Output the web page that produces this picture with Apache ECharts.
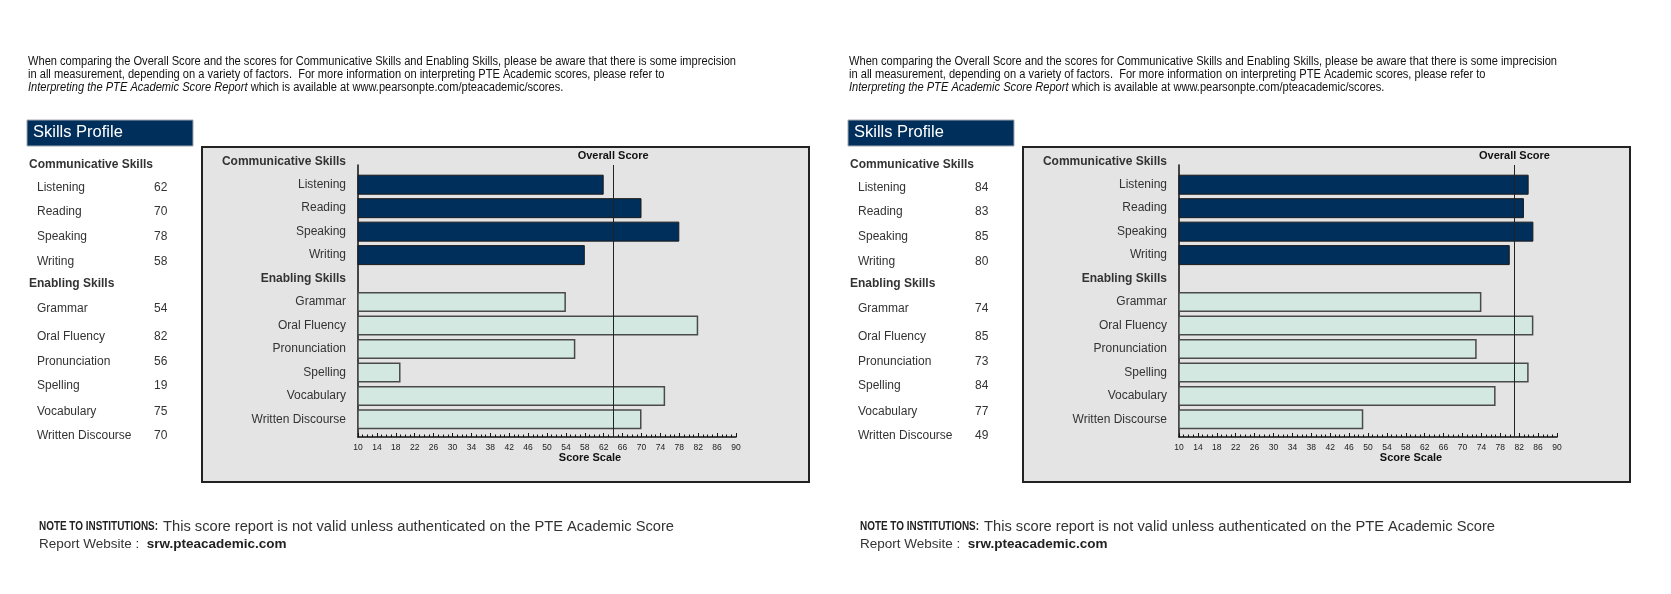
<!DOCTYPE html>
<html>
<head>
<meta charset="utf-8">
<script src="https://cdn.jsdelivr.net/npm/echarts@6/dist/echarts.min.js"></script>
<style>
html,body{margin:0;padding:0;background:#ffffff;}
#chart{width:1671px;height:594px;}
</style>
</head>
<body>
<div id="chart"></div>
<script>
// ---------------- DATA ----------------
const headerRows = ['Communicative Skills', 'Enabling Skills'];
const communicativeSkills = ['Listening', 'Reading', 'Speaking', 'Writing'];
const enablingSkills = ['Grammar', 'Oral Fluency', 'Pronunciation', 'Spelling', 'Vocabulary', 'Written Discourse'];

const report1Communicative = [62, 70, 78, 58];
const report1Enabling = [54, 82, 56, 19, 75, 70];
const report1Overall = 64;

const report2Communicative = [84, 83, 85, 80];
const report2Enabling = [74, 85, 73, 84, 77, 49];
const report2Overall = 81;

const scaleMin = 10;
const scaleMax = 90;
const scaleStep = 4;

const introLines = [
  'When comparing the Overall Score and the scores for Communicative Skills and Enabling Skills, please be aware that there is some imprecision',
  'in all measurement, depending on a variety of factors.  For more information on interpreting PTE Academic scores, please refer to'
];
const introItalic = 'Interpreting the PTE Academic Score Report';
const introTail = ' which is available at www.pearsonpte.com/pteacademic/scores.';
const noteLabel = 'NOTE TO INSTITUTIONS:';
const noteText = 'This score report is not valid unless authenticated on the PTE Academic Score';
const noteLine2 = 'Report Website :  ';
const noteSite = 'srw.pteacademic.com';

// ---------------- FONTS ----------------
const ARIAL = '"Liberation Sans", Arial, sans-serif';
function textWidth(text, font) {
  const ctx = document.createElement('canvas').getContext('2d');
  ctx.font = font;
  return ctx.measureText(text).width;
}
const introFont = '12.5px ' + ARIAL;
const introScale = 708 / textWidth(introLines[0], introFont);
const noteBoldFont = 'bold 12.5px ' + ARIAL;
const noteBoldScale = 119 / textWidth(noteLabel, noteBoldFont);
const noteFont = '14px ' + ARIAL;
const noteScale = 511 / textWidth(noteText, noteFont);

// ---------------- BUILD ----------------
const categories = [headerRows[0], ...communicativeSkills, headerRows[1], ...enablingSkills];
const NAVY = '#002f5c';
const LIGHT = '#d4e8e2';

const option = {
  animation: false,
  textStyle: { fontFamily: ARIAL },
  grid: [], xAxis: [], yAxis: [], series: [], graphic: []
};

function addPanel(p, dx, comm, enab, overall) {
  const gMain = 2 * p, gOver = 2 * p + 1;
  option.grid.push({ left: 358 + dx, width: 378, top: 149.5, height: 281.6 });
  option.grid.push({ left: 358 + dx, width: 378, top: 165, height: 272 });

  option.xAxis.push({ gridIndex: gMain, type: 'value', min: scaleMin, max: scaleMax, show: false });
  option.yAxis.push({
    gridIndex: gMain, type: 'category', inverse: true, data: categories,
    axisLine: { show: false }, axisTick: { show: false }, splitLine: { show: false },
    axisLabel: {
      margin: 12, fontSize: 12, color: '#333',
      formatter: v => headerRows.includes(v) ? '{h|' + v + '}' : v,
      rich: { h: { fontWeight: 'bold', fontSize: 12, color: '#333' } }
    }
  });

  option.xAxis.push({
    gridIndex: gOver, type: 'value', min: scaleMin, max: scaleMax, interval: scaleStep,
    axisLine: { show: true, lineStyle: { color: '#111', width: 1.5 } },
    axisTick: { show: true, inside: true, length: 4, lineStyle: { color: '#111', width: 1 } },
    minorTick: { show: true, splitNumber: 4, length: 2.5, lineStyle: { color: '#111', width: 1 } },
    splitLine: { show: false }, minorSplitLine: { show: false },
    axisLabel: { fontSize: 8.5, margin: 6, color: '#222' },
    name: 'Score Scale', nameLocation: 'middle', nameGap: 13,
    nameTextStyle: { fontWeight: 'bold', fontSize: 11, color: '#111', padding: [0, 0, 0, 86] }
  });
  option.yAxis.push({
    gridIndex: gOver, type: 'value', min: 0, max: 1,
    axisLine: { show: true, lineStyle: { color: '#111', width: 1.5 } },
    axisTick: { show: false }, axisLabel: { show: false }, splitLine: { show: false }
  });

  const darkData = categories.map(c => {
    const i = communicativeSkills.indexOf(c);
    return i >= 0 ? comm[i] : null;
  });
  const lightData = categories.map(c => {
    const i = enablingSkills.indexOf(c);
    return i >= 0 ? enab[i] : null;
  });
  option.series.push({
    type: 'bar', xAxisIndex: gMain, yAxisIndex: gMain, data: darkData,
    barWidth: 20, barGap: '-100%', z: 2,
    itemStyle: { color: NAVY, borderColor: '#1a1a1a', borderWidth: 1 }
  });
  option.series.push({
    type: 'bar', xAxisIndex: gMain, yAxisIndex: gMain, data: lightData,
    barWidth: 20, barGap: '-100%', z: 2,
    itemStyle: { color: LIGHT, borderColor: '#4a4a4a', borderWidth: 1.5 }
  });
  option.series.push({
    type: 'scatter', xAxisIndex: gOver, yAxisIndex: gOver, data: [], z: 5,
    markLine: {
      silent: true, symbol: ['none', 'none'],
      data: [{ xAxis: overall }],
      lineStyle: { color: '#222', width: 1, type: 'solid' },
      label: { show: true, position: 'end', formatter: 'Overall Score', fontWeight: 'bold', fontSize: 11, color: '#111', distance: 4 }
    }
  });

  // decorations
  option.graphic.push({
    type: 'rect', z: -10, shape: { x: 202 + dx, y: 147, width: 607, height: 335 },
    style: { fill: '#e4e4e4', stroke: '#222', lineWidth: 2 }
  });
  option.graphic.push({
    type: 'rect', z: -10, shape: { x: 27 + dx, y: 120, width: 166, height: 26 },
    style: { fill: NAVY, stroke: '#a0a8b0', lineWidth: 1 }
  });
  option.graphic.push({
    type: 'text', x: 33 + dx, y: 132.5,
    style: { text: 'Skills Profile', fill: '#fff', font: '16.5px ' + ARIAL, verticalAlign: 'middle' }
  });

  // intro paragraph
  introLines.forEach((t, i) => {
    option.graphic.push({
      type: 'text', x: 28 + dx, y: 62 + i * 13, scaleX: introScale,
      style: { text: t, fill: '#111', font: introFont, verticalAlign: 'middle' }
    });
  });
  option.graphic.push({
    type: 'text', x: 28 + dx, y: 88, scaleX: introScale,
    style: {
      text: '{i|' + introItalic + '}' + introTail, fill: '#111',
      font: introFont, verticalAlign: 'middle',
      rich: { i: { fontStyle: 'italic', fontSize: 12.5, fontFamily: ARIAL, fill: '#111' } }
    }
  });

  // score list
  const listY = [165, 188, 212, 237, 262, 284, 309, 337, 362, 386, 412, 436];
  categories.forEach((c, i) => {
    const isHead = headerRows.includes(c);
    option.graphic.push({
      type: 'text', x: (isHead ? 29 : 37) + dx, y: listY[i],
      style: { text: c, fill: '#333', font: (isHead ? 'bold ' : '') + '12px ' + ARIAL, verticalAlign: 'middle' }
    });
    const v = isHead ? null : (darkData[i] != null ? darkData[i] : lightData[i]);
    if (v != null) {
      option.graphic.push({
        type: 'text', x: 154 + dx, y: listY[i],
        style: { text: String(v), fill: '#333', font: '12px ' + ARIAL, verticalAlign: 'middle' }
      });
    }
  });

  // note
  option.graphic.push({
    type: 'text', x: 39 + dx, y: 527, scaleX: noteBoldScale,
    style: { text: noteLabel, fill: '#222', font: noteBoldFont, verticalAlign: 'middle' }
  });
  option.graphic.push({
    type: 'text', x: 163 + dx, y: 527, scaleX: noteScale,
    style: { text: noteText, fill: '#333', font: noteFont, verticalAlign: 'middle' }
  });
  option.graphic.push({
    type: 'text', x: 39 + dx, y: 544,
    style: {
      text: noteLine2 + '{b|' + noteSite + '}', fill: '#333', font: '13.5px ' + ARIAL, verticalAlign: 'middle',
      rich: { b: { fontWeight: 'bold', fontSize: 13.5, fontFamily: ARIAL, fill: '#222' } }
    }
  });
}

addPanel(0, 0, report1Communicative, report1Enabling, report1Overall);
addPanel(1, 821, report2Communicative, report2Enabling, report2Overall);

const chart = echarts.init(document.getElementById('chart'), null, { renderer: 'canvas' });
chart.setOption(option);
</script>
</body>
</html>
